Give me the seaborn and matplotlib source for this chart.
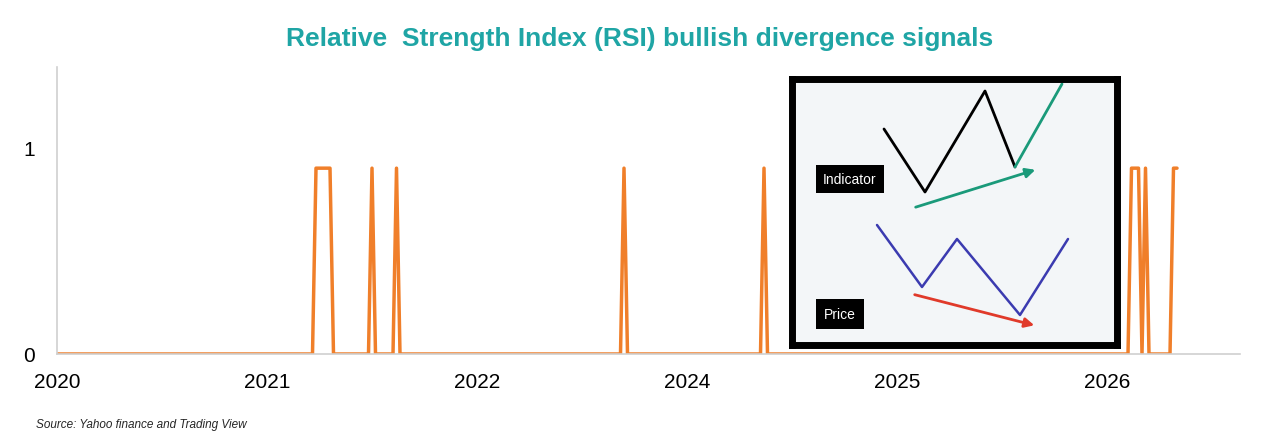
import numpy as np
import pandas as pd
import matplotlib.pyplot as plt
import seaborn as sns
from matplotlib.patches import FancyArrowPatch

sns.set_style("white")
plt.rcParams["font.family"] = ["Liberation Sans", "DejaVu Sans"]

# data: weekly-ish steps, signal=0.9 where RSI bullish divergence fired
n_steps = 321
signal_steps = [74, 75, 76, 77, 78, 90, 97, 162, 202, 307, 308, 309, 311, 319, 320]
signal_level = 0.9
tick_steps = [0, 60, 120, 180, 240, 300]
tick_labels = ["2020", "2021", "2022", "2024", "2025", "2026"]

df = pd.DataFrame({"step": np.arange(n_steps), "signal": 0.0})
df.loc[df["step"].isin(signal_steps), "signal"] = signal_level

fig = plt.figure(figsize=(12.8, 4.39), dpi=100)
ax = fig.add_axes([57 / 1280, 1 - 355 / 439, (1240 - 57) / 1280, (355 - 68) / 439])
sns.lineplot(data=df, x="step", y="signal", ax=ax, color="#f07f2a", linewidth=2.5)
ax.set_xlim(0, 338)
ax.set_ylim(0, 1.39)
ax.set_xticks(tick_steps)
ax.set_xticklabels(tick_labels, fontsize=15, color="black")
ax.set_yticks([0, 1])
ax.set_yticklabels(["0", "1"], fontsize=15, color="black")
ax.set_xlabel("")
ax.set_ylabel("")
for s in ["top", "right"]:
    ax.spines[s].set_visible(False)
for s in ["left", "bottom"]:
    ax.spines[s].set_color("#d0d0d0")
    ax.spines[s].set_linewidth(1.2)
ax.tick_params(axis="x", length=0, pad=13)
ax.tick_params(axis="y", length=0, pad=16)

fig.text(0.5, 0.895, "Relative  Strength Index (RSI) bullish divergence signals",
         ha="center", fontsize=19, fontweight="bold", color="#1fa5a5")
fig.text(0.028, 0.025, "Source: Yahoo finance and Trading View", fontsize=8.5,
         style="italic")

# inset illustration (pixel coords of the picture)
ins = fig.add_axes([792 / 1280, 1 - 346 / 439, (1117 - 792) / 1280, (346 - 80) / 439])
ins.set_xlim(792, 1117)
ins.set_ylim(346, 80)
ins.set_facecolor("#f3f6f8")
ins.set_xticks([])
ins.set_yticks([])
for s in ins.spines.values():
    s.set_linewidth(5)
    s.set_color("black")
ins.plot([884, 925, 985, 1015], [130, 193, 92, 168], color="black", lw=2)
ins.plot([1015, 1062], [168, 85], color="#1a9a7a", lw=2)
ins.plot([877, 922, 957, 1020, 1068], [226, 288, 240, 316, 240], color="#3b3bb0", lw=1.8)
ins.add_patch(FancyArrowPatch((913, 209), (1038, 170), arrowstyle="-|>", mutation_scale=14,
                              color="#1a9a7a", lw=2))
ins.add_patch(FancyArrowPatch((912, 295), (1037, 327), arrowstyle="-|>", mutation_scale=14,
                              color="#e03a2a", lw=2))
ins.text(850, 180, "Indicator", color="white", fontsize=10, ha="center", va="center",
         bbox=dict(facecolor="black", edgecolor="none", pad=5))
ins.text(840, 315, "Price", color="white", fontsize=10, ha="center", va="center",
         bbox=dict(facecolor="black", edgecolor="none", pad=6))

fig.savefig("out.png", dpi=100)
